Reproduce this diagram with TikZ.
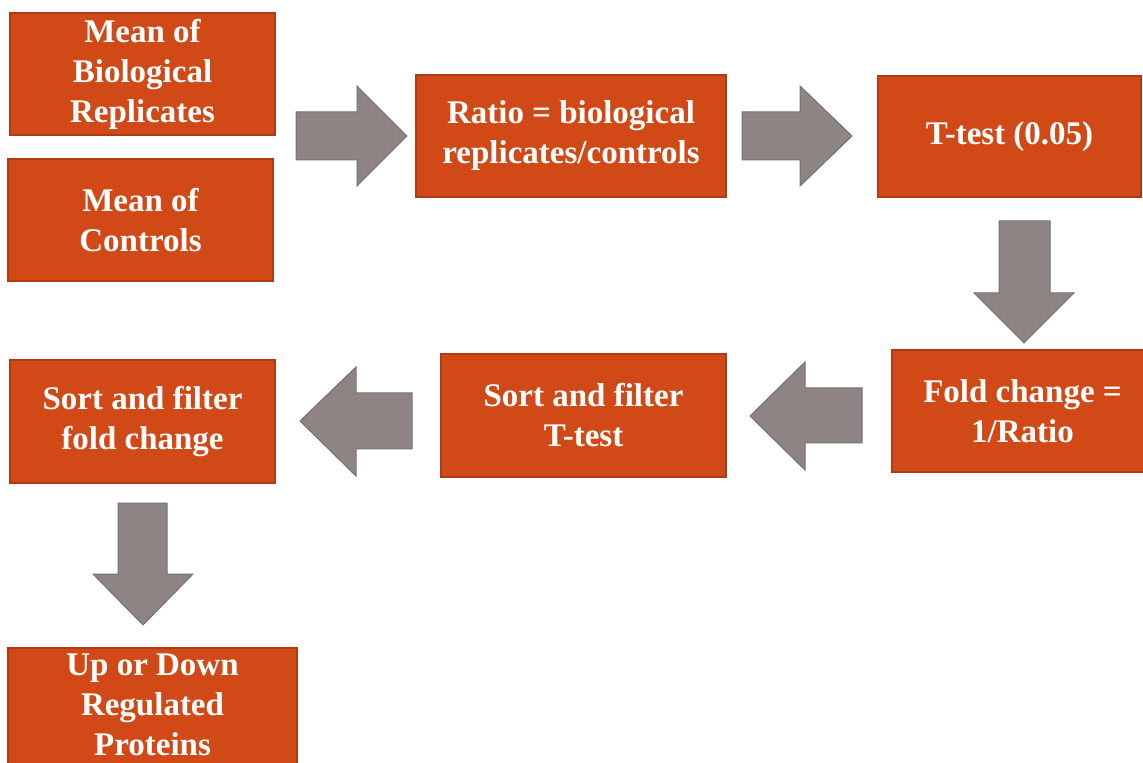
\documentclass[tikz,border=0pt]{standalone}
\usepackage{fontspec}
\setmainfont{Liberation Serif}
\definecolor{boxfill}{RGB}{209,73,23}
\definecolor{boxline}{RGB}{176,58,22}
\definecolor{arrfill}{RGB}{142,132,132}
\definecolor{arrline}{RGB}{120,112,112}
\tikzset{
  boxtext/.style={text=white, font=\bfseries\fontsize{16.5}{20}\selectfont, align=center, inner sep=0pt},
  stepbox/.style={draw=boxline, line width=0.6pt, fill=boxfill, boxtext},
  blockarrow/.style={draw=arrline, line width=0.5pt, fill=arrfill}
}
\begin{document}
\begin{tikzpicture}[x=0.5pt,y=-0.5pt]
\useasboundingbox (0,0) rectangle (1143,763);
\clip (0,0) rectangle (1143,763);
\node[stepbox, minimum width=132.5pt, minimum height=61pt] (b1) at (142.5,74) {Mean of\\Biological\\Replicates};
\node[stepbox, minimum width=132.5pt, minimum height=61pt] (b2) at (140.5,220) {Mean of\\Controls};
\node[stepbox, minimum width=155pt, minimum height=61pt] (b3) at (571,136) {Ratio = biological\\replicates/controls};
\node[stepbox, minimum width=131.5pt, minimum height=60.5pt] (b4) at (1009.5,136.5) {T-test (0.05)};
\node[stepbox, minimum width=130.5pt, minimum height=61pt] (b5) at (1022.5,411) {Fold change =\\1/Ratio};
\node[stepbox, minimum width=142.5pt, minimum height=61.5pt] (b6) at (583.5,415.5) {Sort and filter\\T-test};
\node[stepbox, minimum width=132.5pt, minimum height=61.5pt] (b7) at (142.5,421.5) {Sort and filter\\fold change};
\node[stepbox, minimum width=144.5pt, minimum height=61pt] (b8) at (152.5,709) {};
\node[boxtext] (b8t) at (152.5,705) {Up or Down\\Regulated\\Proteins};
% block arrows
\draw[blockarrow] (296,112) -- (357,112) -- (357,86) -- (407,136) -- (357,186) -- (357,160) -- (296,160) -- cycle;
\draw[blockarrow] (742,112) -- (800,112) -- (800,86) -- (852,136) -- (800,186) -- (800,160) -- (742,160) -- cycle;
\draw[blockarrow] (999,221) -- (1050,221) -- (1050,293) -- (1074,293) -- (1024,343) -- (974,293) -- (999,293) -- cycle;
\draw[blockarrow] (862,388) -- (805,388) -- (805,362) -- (750,416) -- (805,470) -- (805,443) -- (862,443) -- cycle;
\draw[blockarrow] (412,393) -- (356,393) -- (356,367) -- (300,421) -- (356,476) -- (356,449) -- (412,449) -- cycle;
\draw[blockarrow] (118,503) -- (167,503) -- (167,574) -- (193,574) -- (143,625) -- (93,574) -- (118,574) -- cycle;
\end{tikzpicture}
\end{document}
